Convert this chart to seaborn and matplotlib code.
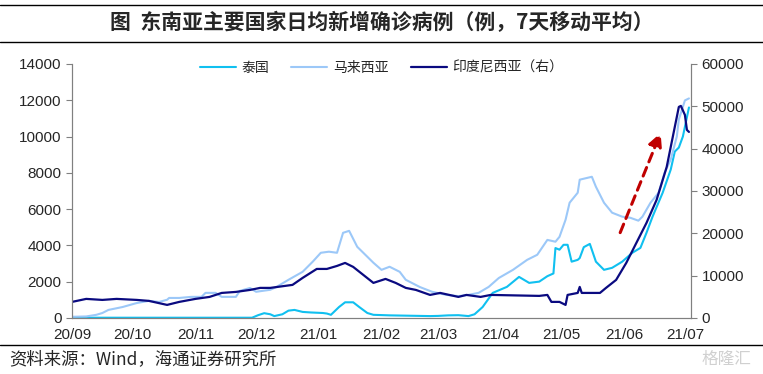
import pandas as pd
import matplotlib.pyplot as plt
import matplotlib.dates as mdates
from matplotlib.lines import Line2D
import seaborn as sns

# ------------------------------------------------
# Data (7-day moving average)
# ------------------------------------------------
th_dates = ["2020-09-01", "2020-10-15", "2020-11-29", "2020-12-02", "2020-12-05", "2020-12-08",
            "2020-12-10", "2020-12-14", "2020-12-17", "2020-12-20", "2020-12-24", "2020-12-28",
            "2021-01-03", "2021-01-05", "2021-01-07", "2021-01-11", "2021-01-14", "2021-01-18",
            "2021-01-21", "2021-01-25", "2021-01-28", "2021-02-05", "2021-02-15", "2021-02-25",
            "2021-03-01", "2021-03-06", "2021-03-11", "2021-03-16", "2021-03-19", "2021-03-23",
            "2021-03-28", "2021-04-04", "2021-04-10", "2021-04-15", "2021-04-20", "2021-04-24",
            "2021-04-27", "2021-04-28", "2021-04-30", "2021-05-02", "2021-05-04", "2021-05-06",
            "2021-05-09", "2021-05-10", "2021-05-12", "2021-05-15", "2021-05-18", "2021-05-22",
            "2021-05-26", "2021-05-31", "2021-06-05", "2021-06-09", "2021-06-12", "2021-06-15",
            "2021-06-20", "2021-06-24", "2021-06-26", "2021-06-28", "2021-06-30", "2021-07-03"]
th_cases = [10, 10, 10, 150, 260, 200,
            100, 200, 400, 440, 330, 300,
            270, 240, 170, 600, 860, 860,
            600, 270, 170, 140, 120, 100,
            110, 140, 150, 100, 200, 600,
            1380, 1710, 2260, 1930, 2000, 2300,
            2450, 3850, 3760, 4030, 4030, 3100,
            3200, 3300, 3900, 4080, 3100, 2650,
            2760, 3100, 3590, 3860, 4690, 5580,
            6900, 8180, 9170, 9390, 10000, 11600]

my_dates = ["2020-09-01", "2020-09-08", "2020-09-13", "2020-09-16", "2020-09-19", "2020-09-26",
            "2020-10-03", "2020-10-09", "2020-10-14", "2020-10-18", "2020-10-19", "2020-10-24",
            "2020-10-30", "2020-11-04", "2020-11-06", "2020-11-11", "2020-11-14", "2020-11-21",
            "2020-11-23", "2020-11-28", "2020-12-01", "2020-12-08", "2020-12-11", "2020-12-17",
            "2020-12-24", "2020-12-29", "2021-01-02", "2021-01-06", "2021-01-10", "2021-01-13",
            "2021-01-16", "2021-01-20", "2021-01-25", "2021-01-28", "2021-02-01", "2021-02-05",
            "2021-02-10", "2021-02-13", "2021-02-20", "2021-02-26", "2021-03-05", "2021-03-11",
            "2021-03-16", "2021-03-21", "2021-03-26", "2021-03-31", "2021-04-07", "2021-04-14",
            "2021-04-19", "2021-04-24", "2021-04-28", "2021-04-30", "2021-05-03", "2021-05-05",
            "2021-05-09", "2021-05-10", "2021-05-16", "2021-05-18", "2021-05-22", "2021-05-26",
            "2021-05-31", "2021-06-04", "2021-06-08", "2021-06-10", "2021-06-14", "2021-06-18",
            "2021-06-21", "2021-06-24", "2021-06-27", "2021-06-28", "2021-07-01", "2021-07-03"]
my_cases = [60, 80, 170, 270, 440, 600,
            820, 940, 880, 1000, 1100, 1100,
            1160, 1160, 1380, 1380, 1160, 1160,
            1490, 1650, 1440, 1550, 1700, 2100,
            2540, 3100, 3590, 3650, 3590, 4690,
            4800, 3920, 3370, 3040, 2650, 2820,
            2540, 2100, 1700, 1440, 1270, 1200,
            1270, 1380, 1710, 2200, 2650, 3200,
            3480, 4300, 4200, 4470, 5410, 6350,
            6900, 7620, 7780, 7230, 6350, 5800,
            5580, 5520, 5360, 5580, 6350, 6900,
            8010, 8730, 10000, 10940, 11990, 12100]

id_dates = ["2020-09-01", "2020-09-08", "2020-09-16", "2020-09-23", "2020-10-03", "2020-10-09",
            "2020-10-18", "2020-10-24", "2020-11-01", "2020-11-08", "2020-11-14", "2020-11-21",
            "2020-11-28", "2020-12-03", "2020-12-08", "2020-12-19", "2020-12-24", "2020-12-31",
            "2021-01-05", "2021-01-10", "2021-01-14", "2021-01-18", "2021-01-23", "2021-01-28",
            "2021-02-03", "2021-02-08", "2021-02-13", "2021-02-18", "2021-02-25", "2021-03-02",
            "2021-03-11", "2021-03-15", "2021-03-22", "2021-03-27", "2021-04-20", "2021-04-24",
            "2021-04-26", "2021-04-30", "2021-05-03", "2021-05-04", "2021-05-09", "2021-05-10",
            "2021-05-11", "2021-05-15", "2021-05-20", "2021-05-23", "2021-05-28", "2021-06-02",
            "2021-06-07", "2021-06-12", "2021-06-17", "2021-06-22", "2021-06-25", "2021-06-28",
            "2021-06-29", "2021-07-01", "2021-07-02", "2021-07-03"]
id_cases = [3780, 4490, 4250, 4490, 4250, 4020,
            3070, 3780, 4490, 4960, 5900, 6140,
            6610, 7090, 7090, 7800, 9450, 11570,
            11570, 12280, 12990, 12050, 10160, 8270,
            9210, 8270, 7090, 6610, 5430, 5900,
            4960, 5430, 4960, 5430, 5200, 5430,
            3780, 3780, 3070, 5430, 5900, 7320,
            5900, 5900, 5900, 7090, 8980, 12990,
            17720, 22440, 27880, 35670, 42760, 49850,
            50090, 47960, 44410, 43940]

df_th = pd.DataFrame({"date": pd.to_datetime(th_dates), "cases": th_cases})
df_my = pd.DataFrame({"date": pd.to_datetime(my_dates), "cases": my_cases})
df_id = pd.DataFrame({"date": pd.to_datetime(id_dates), "cases": id_cases})

c_th = "#10C0F0"
c_my = "#9CC8F8"
c_id = "#0A0A80"

sns.set_style("white")
plt.rcParams["font.family"] = ["Liberation Sans", "Noto Sans CJK SC", "DejaVu Sans"]
plt.rcParams["axes.unicode_minus"] = False

fig = plt.figure(figsize=(7.63, 3.74), dpi=100)
ax = fig.add_axes([0.0944, 0.150, 0.8112, 0.679])
ax2 = ax.twinx()

sns.lineplot(data=df_th, x="date", y="cases", ax=ax, color=c_th, lw=1.5, label="泰国", legend=False)
sns.lineplot(data=df_my, x="date", y="cases", ax=ax, color=c_my, lw=1.5, label="马来西亚", legend=False)
sns.lineplot(data=df_id, x="date", y="cases", ax=ax2, color=c_id, lw=1.6, label="印度尼西亚（右）", legend=False)

ax.set_xlim(pd.Timestamp("2020-09-01"), pd.Timestamp("2021-07-04"))
ax.set_ylim(0, 14000)
ax2.set_ylim(0, 60000)
ax.set_yticks(range(0, 14001, 2000))
ax2.set_yticks(range(0, 60001, 10000))
ax.xaxis.set_major_locator(mdates.MonthLocator())
ax.xaxis.set_major_formatter(mdates.DateFormatter("%y/%m"))
ax.set_xlabel("")
ax.set_ylabel("")
ax2.set_ylabel("")

for a in (ax, ax2):
    for s in a.spines.values():
        s.set_color("#808080")
    a.spines["top"].set_visible(False)
    a.tick_params(axis="both", labelsize=11, length=4, color="#808080", direction="out")
ax.tick_params(axis="x", pad=3)

# red dashed trend arrow
arrow_tail = (pd.Timestamp("2021-05-30"), 4700)
arrow_head = (pd.Timestamp("2021-06-19"), 10200)
ax.annotate("", xy=arrow_head, xytext=arrow_tail,
            arrowprops=dict(arrowstyle="-|>,head_length=0.8,head_width=0.4", color="#C00000",
                            lw=2.2, linestyle=(0, (3, 2)), shrinkA=0, shrinkB=0))

h1, l1 = ax.get_legend_handles_labels()
h2, l2 = ax2.get_legend_handles_labels()
ax.legend(h1 + h2, l1 + l2, loc="center", bbox_to_anchor=(0.5, 0.985), ncol=3, frameon=False,
          handlelength=2.6, columnspacing=1.6, handletextpad=0.4,
          prop={"family": ["Noto Sans CJK SC"], "size": 10})

# title block and source
fig.text(0.5, 1 - 22 / 374, "图  东南亚主要国家日均新增确诊病例（例，7天移动平均）",
         ha="center", va="center", fontsize=15, fontweight="bold", family=["Noto Sans CJK SC"])
fig.add_artist(Line2D([0, 1], [1 - 5 / 374, 1 - 5 / 374], color="black", lw=1.0))
fig.add_artist(Line2D([0, 1], [1 - 42 / 374, 1 - 42 / 374], color="black", lw=1.0))
fig.add_artist(Line2D([0, 1], [1 - 345 / 374, 1 - 345 / 374], color="black", lw=1.0))
fig.text(0.012, 1 - 359 / 374, "资料来源：Wind，海通证券研究所", ha="left", va="center",
         fontsize=12.5, family=["Noto Sans CJK SC", "Liberation Sans"])
fig.text(0.985, 1 - 359 / 374, "格隆汇", ha="right", va="center", fontsize=12,
         color="#D0D0D0", family=["Noto Sans CJK SC"])

fig.savefig("out.png", dpi=100)
